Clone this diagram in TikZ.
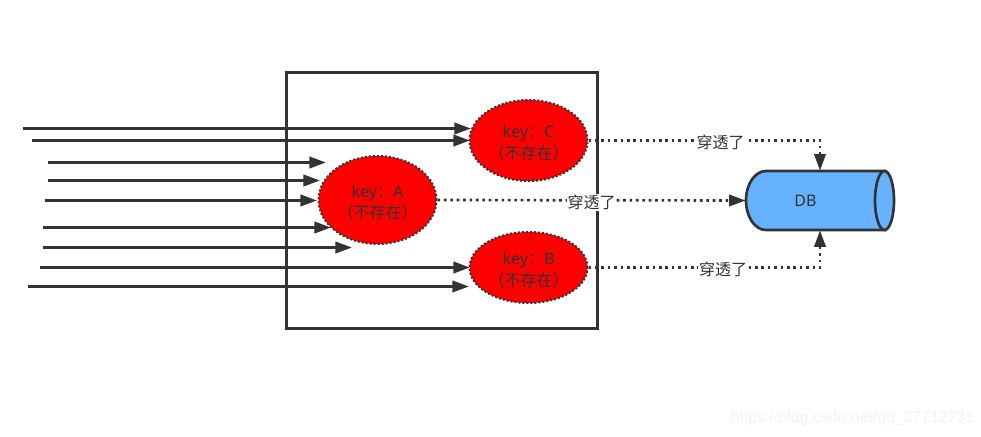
\documentclass[tikz,border=0pt]{standalone}
\usepackage{fontspec}
\setmainfont{Noto Sans CJK SC}
\newfontfamily\latinfont{Liberation Sans}
\newfontfamily\szovegfont{Noto Sans}
\usetikzlibrary{arrows.meta,shapes.geometric}
\definecolor{vonal}{HTML}{333333}
\definecolor{kek}{HTML}{66B2FF}
\newcommand{\kulcsnev}[1]{\rule{0pt}{13pt}{\szovegfont key}：{\szovegfont #1}\\（不存在）}
\tikzset{
  keret/.style={draw=vonal,line width=2.25pt,minimum width=233.25pt,minimum height=192pt,inner sep=0pt},
  nyil/.style={draw=vonal,line width=2.2pt,-{Triangle[length=12.5pt,width=8.5pt]}},
  kulcs/.style={ellipse,draw=vonal,fill=red,line width=1.5pt,dash pattern=on 1.5pt off 1.5pt,
    inner sep=0pt,align=center,text=vonal,font=\fontsize{12pt}{16pt}\selectfont},
  pont/.style={draw=vonal,line width=2pt,dash pattern=on 2pt off 2.8pt,-{Triangle[length=12.5pt,width=8.5pt]}},
  felirat/.style={fill=white,inner sep=0.5pt,text=vonal,font=\fontsize{12pt}{14pt}\selectfont},
}
\begin{document}
\begin{tikzpicture}[x=0.75pt,y=-0.75pt]
  \useasboundingbox (0,0) rectangle (981,436);
  \node[keret] (cache) at (441.5,200) {};
  \foreach \i/\xa/\xb/\ya in {1/23/471/128.5,2/32/470/140.5,3/48/326/162.5,4/47.5/320/180.5,
    5/45/317/200.5,6/42.5/331/227.5,7/42.5/352/247.5,8/40/470/267.5,9/28/469/286.5} {
    \coordinate (be\i) at (\xa,\ya);
    \coordinate (cel\i) at (\xb,\ya);
    \draw[nyil] (be\i) -- (cel\i);
  }
  \node[kulcs,minimum width=88.5pt,minimum height=60.75pt] (keyc) at (528.5,140.5) {\kulcsnev{C}};
  \node[kulcs,minimum width=88.5pt,minimum height=66pt] (keya) at (377.5,200) {\kulcsnev{A}};
  \node[kulcs,minimum width=88.5pt,minimum height=53.25pt] (keyb) at (528.5,267.5) {\kulcsnev{B}};
  \draw[draw=vonal,line width=2pt,fill=kek] (766,171) -- (885,171) -- (885,230) -- (766,230)
    .. controls (755,230) and (746,217) .. (746,200.5)
    .. controls (746,184) and (755,171) .. (766,171) -- cycle;
  \node[ellipse,draw=vonal,fill=kek,line width=2pt,minimum width=14.25pt,minimum height=44.25pt,inner sep=0pt] (dbveg) at (884.5,200.5) {};
  \node[minimum width=111pt,minimum height=44.25pt,inner sep=0pt] (db) at (820,200.5) {};
  \node[text=vonal,font=\szovegfont\fontsize{12pt}{14pt}\selectfont] (dbnev) at (805.5,201) {DB};
  \draw[pont] (keyc.east) -| (db.north);
  \draw[pont] (keya.east) -- (db.west);
  \draw[pont] (keyb.east) -| (db.south);
  \node[felirat] (atc) at (720.5,142.5) {穿透了};
  \node[felirat] (ata) at (591.5,202.5) {穿透了};
  \node[felirat] (atb) at (723,269.5) {穿透了};
  \node[text=black!5,font=\latinfont\fontsize{11.9pt}{15pt}\selectfont] (jel) at (852.5,418) {https://blog.csdn.net/qq\_37712731};
\end{tikzpicture}
\end{document}
